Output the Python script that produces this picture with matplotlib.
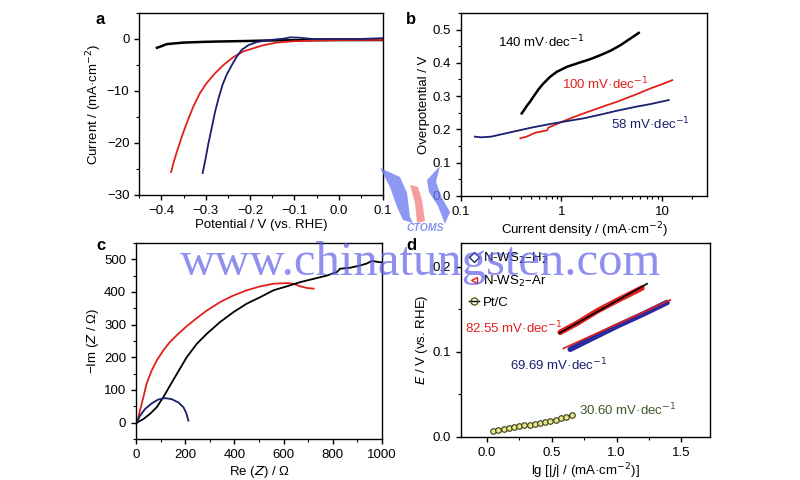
import matplotlib
matplotlib.use("Agg")
import numpy as np
import matplotlib.pyplot as plt
from matplotlib.ticker import AutoMinorLocator
from matplotlib.patches import Polygon

plt.rcParams['font.family'] = ['Liberation Sans', 'DejaVu Sans']
plt.rcParams['font.size'] = 9.5
plt.rcParams['axes.linewidth'] = 1.0

# panel a: polarization curves
a_black_x = [-0.41, -0.40, -0.388, -0.37, -0.35, -0.30, -0.275, -0.2, -0.163, -0.1, 0.0, 0.1]
a_black_y = [-1.7, -1.4, -1.0, -0.85, -0.7, -0.55, -0.5, -0.38, -0.3, -0.25, -0.22, -0.2]
a_red_x = [-0.378, -0.373, -0.365, -0.354, -0.343, -0.328, -0.313, -0.298, -0.279,
           -0.260, -0.238, -0.215, -0.193, -0.170, -0.140, -0.103, -0.05, 0.0, 0.1]
a_red_y = [-25.6, -23.9, -21.7, -18.8, -16.2, -13.0, -10.4, -8.5, -6.6,
           -5.0, -3.5, -2.4, -1.8, -1.2, -0.7, -0.45, -0.3, -0.22, -0.18]
a_blue_x = [-0.307, -0.301, -0.294, -0.286, -0.279, -0.271, -0.262, -0.253, -0.241,
            -0.230, -0.219, -0.204, -0.185, -0.155, -0.125, -0.11, -0.09, -0.06, 0.0, 0.05, 0.1]
a_blue_y = [-25.8, -23.3, -20.1, -16.9, -14.0, -11.4, -8.8, -6.9, -5.0,
            -3.4, -2.1, -1.2, -0.6, -0.2, 0.05, 0.3, 0.25, 0.0, 0.0, 0.0, 0.15]

# panel b: Tafel plots
b_black_x = [0.403, 0.425, 0.451, 0.487, 0.526, 0.59, 0.662, 0.771, 0.898, 1.13,
             1.42, 1.93, 2.43, 3.05, 3.85, 4.83, 5.85]
b_black_y = [0.248, 0.258, 0.270, 0.283, 0.298, 0.320, 0.338, 0.358, 0.373, 0.388,
             0.398, 0.411, 0.423, 0.436, 0.453, 0.473, 0.49]
b_red_x = [0.39, 0.45, 0.55, 0.62, 0.72, 0.74, 0.85, 1.0, 1.3, 1.66, 2.5, 3.56, 5.5, 7.65, 10, 12.6]
b_red_y = [0.173, 0.178, 0.19, 0.193, 0.197, 0.205, 0.213, 0.222, 0.236, 0.248, 0.267,
           0.283, 0.305, 0.323, 0.336, 0.348]
b_blue_x = [0.138, 0.16, 0.2, 0.3, 0.5, 0.77, 1.2, 1.66, 2.5, 3.56, 5.5, 7.65, 11.6]
b_blue_y = [0.178, 0.176, 0.178, 0.19, 0.205, 0.216, 0.226, 0.233, 0.245, 0.256, 0.268, 0.276, 0.288]

# panel c: Nyquist plots
c_red_x = [5, 16, 30, 43, 64, 84, 111, 138, 172, 206, 247, 288, 342, 396, 450, 505,
           559, 613, 640, 668, 695, 722]
c_red_y = [0, 37, 78, 119, 160, 190, 221, 247, 272, 295, 320, 343, 369, 389, 405, 417,
           425, 427, 425, 417, 412, 410]
c_black_x = [3, 30, 57, 84, 111, 138, 166, 206, 247, 288, 342, 396, 450, 505, 559, 613,
             668, 722, 776, 817, 830, 871, 912, 939, 959, 980, 1000]
c_black_y = [0, 11, 27, 47, 78, 113, 149, 200, 241, 272, 308, 338, 364, 384, 405, 417,
             430, 440, 450, 461, 471, 474, 481, 487, 495, 492, 490]
c_blue_x = [3, 16, 37, 64, 91, 118, 145, 172, 193, 204, 213]
c_blue_y = [0, 21, 42, 59, 71, 75, 72, 62, 47, 30, 6]

# panel d: Tafel plots with fits
d_ptc_x = [0.05, 0.09, 0.13, 0.17, 0.21, 0.25, 0.29, 0.33, 0.37, 0.41, 0.45, 0.49, 0.53,
           0.57, 0.61, 0.656]
d_ptc_y = [0.0074, 0.0085, 0.0095, 0.0105, 0.0115, 0.0126, 0.0136, 0.0146, 0.0157,
           0.0168, 0.0180, 0.0192, 0.0205, 0.0220, 0.0238, 0.026]
d_ar_x = [0.566, 0.7, 0.85, 1.0, 1.196]
d_ar_y = [0.123, 0.134, 0.148, 0.16, 0.175]
d_ar_fit_x = [0.56, 1.235]
d_ar_fit_y = [0.122, 0.18]
d_h2_x = [0.643, 0.8, 1.0, 1.2, 1.389]
d_h2_y = [0.103, 0.115, 0.13, 0.144, 0.158]
d_h2_fit_x = [0.59, 1.414]
d_h2_fit_y = [0.104, 0.161]

# logo outline (pixel coords of the 800x480 picture)
logo_left = [(380, 168), (400, 177), (407, 193), (410, 217), (413, 223),
             (403, 220), (397, 207), (390, 187)]
logo_mid = [(410, 185), (418, 187), (422, 200), (425, 221), (417, 223),
            (415, 203), (412, 192)]
logo_right = [(427, 180), (440, 166), (436, 182), (442, 198), (450, 212),
              (445, 224), (438, 206), (429, 192)]

RED = '#e0201b'
NAVY = '#1a1f6e'

fig = plt.figure(figsize=(8, 4.8), dpi=100)

def style(ax):
    ax.tick_params(direction='out', length=3.5, width=1.0, labelsize=9.5)
    ax.tick_params(which='minor', direction='out', length=2, width=0.8)

# a
ax = fig.add_axes([0.174, 0.594, 0.305, 0.379])
ax.plot(a_black_x, a_black_y, color='black', lw=1.8)
ax.plot(a_red_x, a_red_y, color=RED, lw=1.3)
ax.plot(a_blue_x, a_blue_y, color=NAVY, lw=1.3)
ax.set_xlim(-0.45, 0.1)
ax.set_ylim(-30, 5)
ax.set_xticks([-0.4, -0.3, -0.2, -0.1, 0.0, 0.1])
ax.set_xticklabels(['\u22120.4', '\u22120.3', '\u22120.2', '\u22120.1', '0.0', '0.1'])
ax.set_yticks([-30, -20, -10, 0])
ax.set_yticklabels(['\u221230', '\u221220', '\u221210', '0'])
ax.xaxis.set_minor_locator(AutoMinorLocator(2))
ax.yaxis.set_minor_locator(AutoMinorLocator(2))
style(ax)
ax.set_xlabel('Potential / V (vs. RHE)', labelpad=2)
ax.set_ylabel('Current / (mA\u00b7cm$^{-2}$)', labelpad=2)
fig.text(0.12, 0.975, 'a', fontsize=12, fontweight='bold', va='top')

# b
ax = fig.add_axes([0.576, 0.592, 0.308, 0.381])
ax.plot(b_black_x, b_black_y, color='black', lw=1.8)
ax.plot(b_red_x, b_red_y, color=RED, lw=1.3)
ax.plot(b_blue_x, b_blue_y, color=NAVY, lw=1.3)
ax.set_xscale('log')
ax.set_xlim(0.1, 28)
ax.set_ylim(0, 0.55)
ax.set_xticks([0.1, 1, 10])
ax.set_xticklabels(['0.1', '1', '10'])
ax.set_yticks([0.0, 0.1, 0.2, 0.3, 0.4, 0.5])
ax.yaxis.set_minor_locator(AutoMinorLocator(2))
style(ax)
ax.set_xlabel('Current density / (mA\u00b7cm$^{-2}$)', labelpad=2)
ax.set_ylabel('Overpotential / V', labelpad=2)
ax.text(0.235, 0.448, '140 mV\u00b7dec$^{-1}$', color='black', fontsize=9.5)
ax.text(1.02, 0.32, '100 mV\u00b7dec$^{-1}$', color=RED, fontsize=9.5)
ax.text(3.1, 0.2, '58 mV\u00b7dec$^{-1}$', color=NAVY, fontsize=9.5)
fig.text(0.508, 0.975, 'b', fontsize=12, fontweight='bold', va='top')

# c
ax = fig.add_axes([0.170, 0.0854, 0.3075, 0.4086])
ax.plot(c_red_x, c_red_y, color=RED, lw=1.3)
ax.plot(c_black_x, c_black_y, color='black', lw=1.3)
ax.plot(c_blue_x, c_blue_y, color=NAVY, lw=1.3)
ax.set_xlim(0, 1000)
ax.set_ylim(-50, 550)
ax.set_xticks([0, 200, 400, 600, 800, 1000])
ax.set_yticks([0, 100, 200, 300, 400, 500])
ax.xaxis.set_minor_locator(AutoMinorLocator(2))
ax.yaxis.set_minor_locator(AutoMinorLocator(2))
style(ax)
ax.set_xlabel('Re ($Z$) / \u03a9', labelpad=2)
ax.set_ylabel('\u2212Im ($Z$ / \u03a9)', labelpad=2)
fig.text(0.12, 0.505, 'c', fontsize=12, fontweight='bold', va='top')

# d
ax = fig.add_axes([0.576, 0.0896, 0.3115, 0.4044])
ax.plot(d_ptc_x, d_ptc_y, color='black', lw=1.0, marker='o', ms=4,
        mfc='#e6ea8a', mec='#3a3a20', mew=0.8)
ax.plot(d_ar_x, d_ar_y, color=RED, lw=4.0, solid_capstyle='round')
ax.plot(d_ar_fit_x, d_ar_fit_y, color='black', lw=1.2)
ax.plot(d_h2_x, d_h2_y, color='#2a2aa0', lw=4.0, solid_capstyle='round')
ax.plot(d_h2_fit_x, d_h2_fit_y, color=RED, lw=1.2)
h1, = ax.plot([], [], ls='none', marker='D', ms=5, mfc='none', mec=NAVY, mew=1.0)
h2, = ax.plot([], [], ls='none', marker='<', ms=5, mfc='none', mec=RED, mew=1.0)
h3, = ax.plot([], [], color='black', lw=1.0, marker='o', ms=5, mfc='none', mec='#5a5a10', mew=1.0)
ax.legend([h1, h2, h3], ['N-WS$_2$\u2013H$_2$', 'N-WS$_2$\u2013Ar', 'Pt/C'],
          loc='upper left', frameon=False, fontsize=9.5, handlelength=0.8,
          handletextpad=0.3, borderaxespad=0.2, labelspacing=0.6)
ax.set_xlim(-0.2, 1.72)
ax.set_ylim(0, 0.228)
ax.set_xticks([0.0, 0.5, 1.0, 1.5])
ax.set_yticks([0.0, 0.1, 0.2])
ax.xaxis.set_minor_locator(AutoMinorLocator(2))
ax.yaxis.set_minor_locator(AutoMinorLocator(2))
style(ax)
ax.set_xlabel('lg [|$j$| / (mA\u00b7cm$^{-2}$)]', labelpad=2)
ax.set_ylabel('$E$ / V (vs. RHE)', labelpad=2)
ax.text(-0.167, 0.122, '82.55 mV\u00b7dec$^{-1}$', color=RED, fontsize=9.5)
ax.text(0.18, 0.078, '69.69 mV\u00b7dec$^{-1}$', color=NAVY, fontsize=9.5)
ax.text(0.707, 0.026, '30.60 mV\u00b7dec$^{-1}$', color='#3a5a2a', fontsize=9.5)
fig.text(0.508, 0.505, 'd', fontsize=12, fontweight='bold', va='top')

# watermark and logo, drawn over the axes
def to_fig(pts):
    return [(x / 800, 1 - y / 480) for x, y in pts]

for pts, col in [(logo_left, '#6f7ff0'), (logo_mid, '#f08585'), (logo_right, '#6f7ff0')]:
    fig.add_artist(Polygon(to_fig(pts), closed=True, transform=fig.transFigure,
                           facecolor=col, edgecolor='none', alpha=0.8, zorder=10))
fig.text(0.532, 0.525, 'CTOMS', family='Liberation Sans', fontsize=7.5, fontstyle='italic',
         fontweight='bold', color='#7a8af0', alpha=0.9, ha='center', va='center', zorder=10)
fig.text(0.526, 0.452, 'www.chinatungsten.com', family='Liberation Serif', fontsize=35,
         color='#6060e8', alpha=0.7, ha='center', va='center', zorder=10)

fig.savefig('out.png', dpi=100)
